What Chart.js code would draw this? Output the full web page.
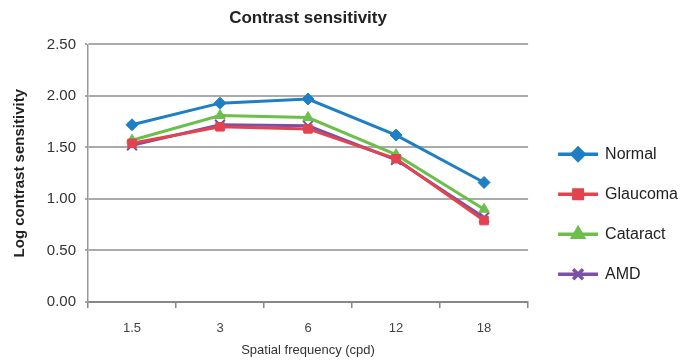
<!DOCTYPE html>
<html>
<head>
<meta charset="utf-8">
<script src="https://cdn.jsdelivr.net/npm/chart.js@4.4.1/dist/chart.umd.min.js"></script>
<style>
  html, body { margin: 0; padding: 0; background: #fff; }
  #wrap { width: 697px; height: 364px; }
</style>
</head>
<body>
<div id="wrap"><canvas id="csChart" width="697" height="364"></canvas></div>
<script>
// Chart data
const categories = ["1.5", "3", "6", "12", "18"];
const normal = [1.72, 1.93, 1.97, 1.62, 1.16];
const glaucoma = [1.54, 1.70, 1.68, 1.39, 0.79];
const cataract = [1.57, 1.81, 1.79, 1.43, 0.90];
const amd = [1.52, 1.72, 1.71, 1.38, 0.82];
const yMin = 0;
const yMax = 2.5;
const yStep = 0.5;

const font = "'Liberation Sans', Arial, sans-serif";

function series(label, data, color, style, radius) {
  return {
    label: label,
    data: data,
    borderColor: color,
    backgroundColor: color,
    borderWidth: 3,
    pointStyle: style,
    pointRadius: radius,
    pointBorderWidth: style === "crossRot" ? 2 : 1,
    pointBackgroundColor: color,
    pointBorderColor: color,
    tension: 0,
  };
}

// Draw legend samples as a line with the marker on it
const legendLines = {
  id: "legendLines",
  afterDraw(chart) {
    const legend = chart.legend;
    if (!legend || !legend.legendHitBoxes) return;
    const ctx = chart.ctx;
    legend.legendHitBoxes.forEach((box, i) => {
      const ds = chart.data.datasets[i];
      const y = box.top + box.height / 2;
      const x0 = box.left + 6;
      const x1 = x0 + 40;
      ctx.save();
      ctx.strokeStyle = ds.borderColor;
      ctx.lineWidth = 3.5;
      ctx.beginPath();
      ctx.moveTo(x0, y);
      ctx.lineTo(x1, y);
      ctx.stroke();
      ctx.fillStyle = ds.borderColor;
      ctx.strokeStyle = ds.borderColor;
      Chart.helpers.drawPoint(ctx, {
        pointStyle: ds.pointStyle,
        radius: ds.pointRadius,
        rotation: 0,
        borderWidth: ds.pointBorderWidth,
      }, (x0 + x1) / 2, y);
      ctx.restore();
    });
  },
};

const ctx = document.getElementById("csChart").getContext("2d");
const csChart = new Chart(ctx, {
  type: "line",
  data: {
    labels: categories,
    datasets: [
      series("Normal", normal, "#1f7fc4", "rectRot", 6),
      series("Glaucoma", glaucoma, "#e2434e", "rect", 6),
      series("Cataract", cataract, "#6cbf4a", "triangle", 6),
      series("AMD", amd, "#7d4fa6", "crossRot", 7),
    ],
  },
  plugins: [legendLines],
  options: {
    responsive: false,
    animation: false,
    layout: { padding: { left: 11, right: 9, top: 0, bottom: 4 } },
    plugins: {
      tooltip: { enabled: false },
      title: {
        display: true,
        text: "Contrast sensitivity",
        fullSize: false,
        color: "#222",
        font: { family: font, size: 17, weight: "bold" },
        padding: { top: 8, bottom: 16 },
      },
      legend: {
        position: "right",
        align: "center",
        title: {
          display: true,
          text: " ",
          font: { size: 12 },
          padding: { top: 27, bottom: 27 },
        },
        labels: {
          boxWidth: 45,
          boxHeight: 16,
          padding: 24,
          color: "#222",
          font: { family: font, size: 16 },
          generateLabels(chart) {
            const items = Chart.defaults.plugins.legend.labels.generateLabels(chart);
            items.forEach((it) => {
              it.fillStyle = "rgba(0,0,0,0)";
              it.strokeStyle = "rgba(0,0,0,0)";
              it.lineWidth = 0;
            });
            return items;
          },
        },
      },
    },
    scales: {
      x: {
        offset: true,
        afterFit(scale) {
          scale.height = 58;
        },
        grid: {
          offset: true,
          drawOnChartArea: false,
          drawTicks: true,
          tickLength: 6,
          color: "#888",
          lineWidth: 1.5,
        },
        border: { display: true, color: "#888", width: 2 },
        ticks: {
          color: "#444",
          padding: 13,
          font: { family: font, size: 13 },
        },
        title: {
          display: true,
          text: "Spatial frequency (cpd)",
          color: "#333",
          font: { family: font, size: 13 },
          padding: { top: 0, bottom: 2 },
        },
      },
      y: {
        min: yMin,
        max: yMax,
        afterFit(scale) {
          scale.width = 77;
        },
        ticks: {
          stepSize: yStep,
          color: "#333",
          padding: 9,
          font: { family: font, size: 15 },
          callback: (v) => Number(v).toFixed(2),
        },
        grid: {
          color: "#aaa",
          lineWidth: 2,
          drawTicks: true,
          tickLength: 3,
        },
        border: { display: true, color: "#999", width: 1.5 },
        title: {
          display: true,
          text: "Log contrast sensitivity",
          color: "#222",
          font: { family: font, size: 15, weight: "bold" },
          padding: { top: 0, bottom: 6 },
        },
      },
    },
  },
});
</script>
</body>
</html>
